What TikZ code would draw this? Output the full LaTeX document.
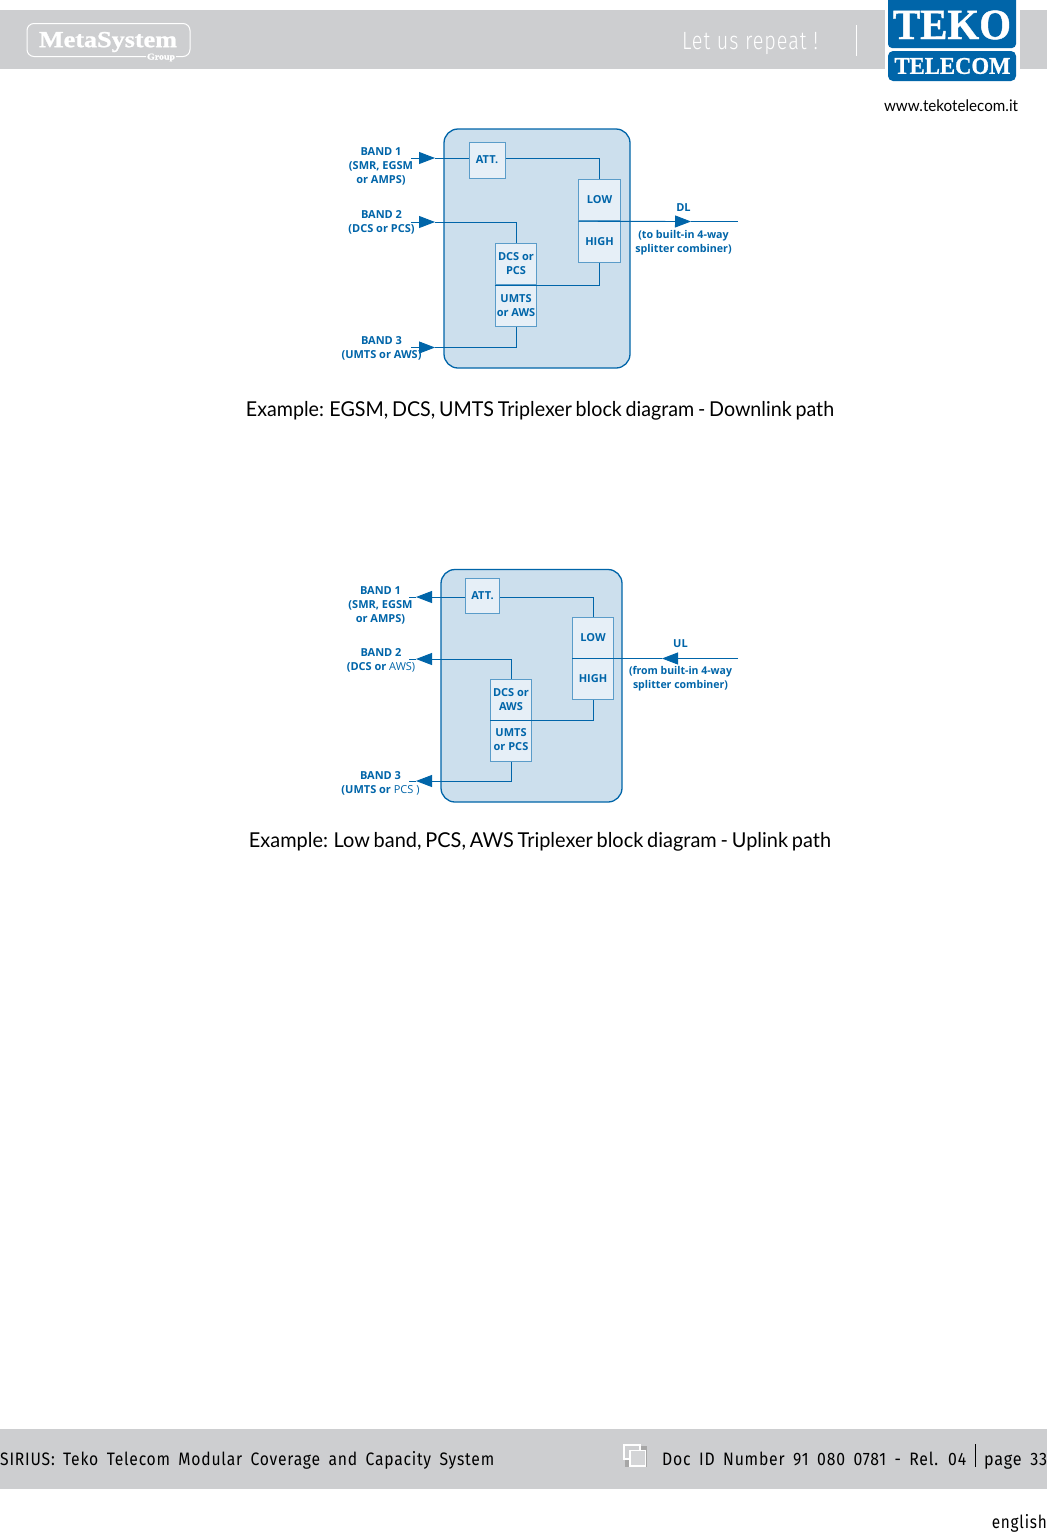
\documentclass[tikz,border=0pt]{standalone}
\usepackage{graphicx}
\usepackage{fontspec}
\setmainfont{Open Sans}
\newfontfamily\labfont{Open Sans}
\newfontfamily\capfont[WordSpace=0.75]{Lato}
\newfontfamily\din[WordSpace=1.7,LetterSpace=5]{Fira Sans}
\newfontfamily\repfont[LetterSpace=5]{Fira Sans Light}
\newfontfamily\logofont[FakeBold=1]{Liberation Serif}
\usetikzlibrary{arrows.meta,calc}
\definecolor{tekoblue}{HTML}{0065A9}
\definecolor{panelfill}{HTML}{CCDFED}
\definecolor{boxfill}{HTML}{E6EFF7}
\definecolor{boxline}{HTML}{5A9CC9}
\definecolor{bargray}{HTML}{CDCED0}
\newcommand{\fitw}[2]{\resizebox{#1}{\height}{#2}}
\newcommand{\lite}[1]{{\mdseries #1}}
\tikzset{
  x=1pt,y=-1pt,
  panel/.style={draw=tekoblue,line width=1.3pt,fill=panelfill,rounded corners=14pt},
  blk/.style={draw=boxline,line width=1pt,fill=boxfill,minimum width=#1,minimum height=#1,inner sep=0pt,text=tekoblue,font=\labfont\bfseries\fontsize{11}{14}\selectfont,align=center},
  blk/.default=41pt,
  conn/.style={draw=tekoblue,line width=0.9pt},
  tip/.style={conn,-{Triangle[length=16pt,width=12pt,fill=tekoblue]}},
  lab/.style={text=tekoblue,font=\labfont\bfseries\fontsize{11}{14}\selectfont,align=center,inner sep=0pt},
  labsmall/.style={text=tekoblue,font=\labfont\bfseries\fontsize{10.7}{14}\selectfont,align=center,inner sep=0pt},
  caption/.style={text=black,font=\capfont\fontsize{20.5}{24}\selectfont,inner sep=0pt},
  dintext/.style={text=black,font=\din\fontsize{18}{20}\selectfont,inner sep=0pt},
}
\begin{document}
\begin{tikzpicture}
\useasboundingbox (0,0) rectangle (1047,1532);
\fill[white] (0,0) rectangle (1047,1532);
% header
\fill[bargray] (0,10) rectangle (1047,69);
\fill[white] (885,0) rectangle (1020,90);
\draw[white,line width=1pt,rounded corners=7pt] (146,56.5) -- (27,56.5) -- (27,23.5) -- (190,23.5) -- (190,56.5) -- (176,56.5);
\node[text=white,font=\logofont\bfseries\fontsize{23}{24}\selectfont,inner sep=0pt] (meta) at (108,42) {\fitw{138pt}{MetaSystem}};
\node[text=white,font=\logofont\bfseries\fontsize{9}{9}\selectfont,inner sep=0pt] (group) at (161,57.5) {\fitw{28pt}{Group}};
\node[text=white,font=\repfont\fontsize{25}{26}\selectfont,inner sep=0pt] (repeat) at (750,43) {\fitw{136pt}{Let us repeat !}};
\draw[white,line width=0.9pt] (856.5,25) -- (856.5,56);
\fill[tekoblue,rounded corners=4pt] (888,-6) rectangle (1016,48);
\fill[tekoblue,rounded corners=5pt] (888,51) rectangle (1016,81);
\node[text=white,font=\logofont\bfseries\fontsize{43}{44}\selectfont,inner sep=0pt] (teko) at (952,25) {\fitw{118pt}{TEKO}};
\node[text=white,font=\logofont\bfseries\fontsize{24}{24}\selectfont,inner sep=0pt] (telecom) at (952.5,66) {\fitw{116pt}{TELECOM}};
\node[text=black,font=\capfont\fontsize{16}{18}\selectfont,inner sep=0pt] (web) at (951,105.5) {\fitw{134pt}{www.tekotelecom.it}};

% ---------- downlink ----------
\draw[panel] (444,129) rectangle (630,368);
\node[blk=36pt] (att1) at (487,160) {\raisebox{-1pt}{ATT.}};
\node[blk=41.5pt] (low1) at (599.5,200) {LOW};
\node[blk=41.5pt] (high1) at (599.5,242) {HIGH};
\node[blk=41.5pt] (dcs1) at (516,264) {DCS or\\PCS};
\node[blk=41.5pt] (umts1) at (516,306) {\raisebox{1pt}{UMTS}\\\raisebox{1pt}{or AWS}};
\coordinate (b1s) at (411,158);
\coordinate (b1a) at (435,158);
\coordinate (b2s) at (411,222);
\coordinate (b2a) at (435,222);
\coordinate (b3s) at (411,347.5);
\coordinate (b3a) at (435,347.5);
\coordinate (dla) at (691,221.5);
\coordinate (dle) at (738,221.5);
\draw[tip] (b1s) -- (b1a);
\draw[tip] (b2s) -- (b2a);
\draw[tip] (b3s) -- (b3a);
\draw[conn] (b1a) -- (att1.west|-b1a);
\draw[conn] (att1.east|-b1a) -| (low1.north);
\draw[conn] (b2a) -| (dcs1.north);
\draw[conn] (b3a) -| (umts1.south);
\draw[conn] (dcs1.south west) -- (dcs1.south east) -| (high1.south);
\draw[tip] (low1.south west) -- (dla);
\draw[conn] (dla) -- (dle);
\node[lab] (l1) at (381,166.5) {BAND 1\\(SMR, EGSM\\or AMPS)};
\node[lab] (l2) at (381.5,222.5) {BAND 2\\(DCS or PCS)};
\node[lab] (l3) at (381.5,348.5) {BAND 3\\(UMTS or AWS)};
\node[lab] (dl) at (683.5,207.5) {DL};
\node[labsmall] (dlt) at (683.5,243) {(to built-in 4-way\\splitter combiner)};
\node[caption] (cap1) at (540,411) {\fitw{588pt}{Example: EGSM, DCS, UMTS Triplexer block diagram - Downlink path}};

% ---------- uplink ----------
\draw[panel] (441,569.5) rectangle (622,802);
\node[blk=34.5pt] (att2) at (482.5,596) {\raisebox{-1pt}{ATT.}};
\node[blk=41pt] (low2) at (593,637.5) {LOW};
\node[blk=41pt] (high2) at (593,678.5) {HIGH};
\node[blk=41pt] (dcs2) at (511,699.5) {DCS or\\AWS};
\node[blk=41pt] (umts2) at (511,740.5) {\raisebox{1pt}{UMTS}\\\raisebox{1pt}{or PCS}};
\coordinate (c1e) at (409,597);
\coordinate (c1a) at (416,597);
\coordinate (c2e) at (409,659);
\coordinate (c2a) at (416,659);
\coordinate (c3e) at (409,781);
\coordinate (c3a) at (416,781);
\coordinate (ula) at (662,658.5);
\coordinate (uls) at (738,658.5);
\draw[tip] (att2.west|-c1a) -- (c1a);
\draw[conn] (c1a) -- (c1e);
\draw[conn] (att2.east|-c1a) -| (low2.north);
\draw[tip] (dcs2.north) |- (c2a);
\draw[conn] (c2a) -- (c2e);
\draw[tip] (umts2.south) |- (c3a);
\draw[conn] (c3a) -- (c3e);
\draw[conn] (dcs2.south west) -- (dcs2.south east) -| (high2.south);
\draw[tip] (uls) -- (ula);
\draw[conn] (ula) -- (low2.south west);
\node[lab] (m1) at (380.5,605.5) {BAND 1\\(SMR, EGSM\\or AMPS)};
\node[lab] (m2) at (381,660) {BAND 2\\(DCS or \lite{AWS)}};
\node[lab] (m3) at (380.5,783) {BAND 3\\(UMTS or \lite{PCS )}};
\node[lab] (ul) at (680.5,643.5) {UL};
\node[labsmall] (ult) at (680.5,678.5) {\fitw{103pt}{(from built-in 4-way}\\\fitw{95pt}{splitter combiner)}};
\node[caption] (cap2) at (540,841.5) {\fitw{582pt}{Example: Low band, PCS, AWS Triplexer block diagram - Uplink path}};

% ---------- footer ----------
\fill[bargray] (0,1429) rectangle (1047,1489);
\node[dintext,anchor=base west] (sirius) at (0,1465) {\fitw{494pt}{SIRIUS: Teko Telecom Modular Coverage and Capacity System}};
\fill[gray!70] (625,1446) rectangle (647,1467);
\draw[white,line width=1.2pt,fill=bargray] (624,1445) rectangle (640,1459);
\draw[white,line width=1.2pt,fill=bargray!85!white] (630,1450.5) rectangle (645.5,1466);
\node[dintext,anchor=base west] (docid) at (662,1465.5) {\fitw{304pt}{Doc ID Number 91 080 0781 - Rel. 04}};
\draw[black,line width=0.9pt] (975.5,1444) -- (975.5,1467);
\node[dintext,anchor=base west] (page) at (984,1465.5) {\fitw{63pt}{page 33}};
\node[dintext,anchor=base east] (lang) at (1047,1528) {\fitw{55pt}{english}};
\end{tikzpicture}
\end{document}
